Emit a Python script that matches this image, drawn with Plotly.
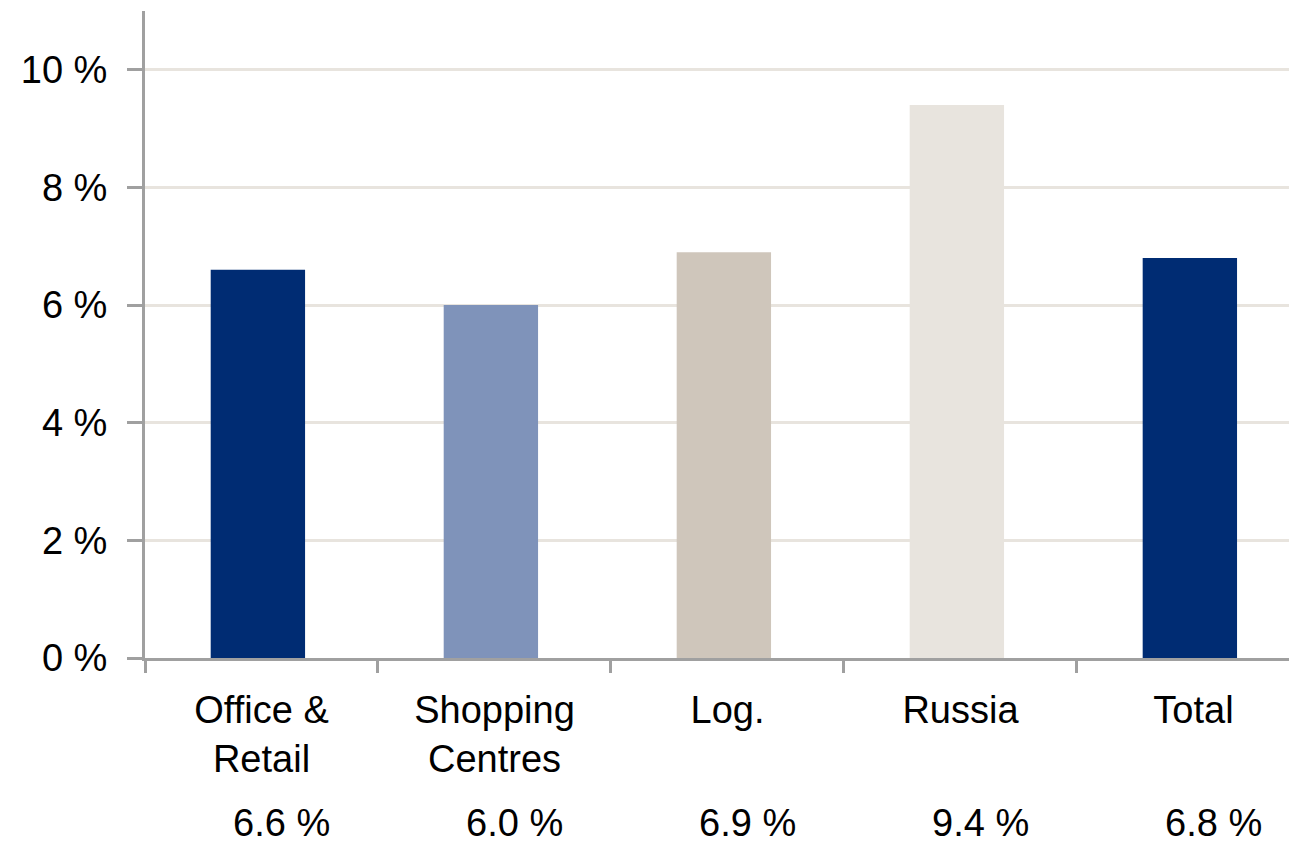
import plotly.graph_objects as go

categories = ["Office &<br>Retail", "Shopping<br>Centres", "Log.", "Russia", "Total"]
values = [6.6, 6.0, 6.9, 9.4, 6.8]
value_labels = ["6.6 %", "6.0 %", "6.9 %", "9.4 %", "6.8 %"]
bar_colors = ["#002C73", "#7F93BA", "#CFC6BB", "#E8E4DE", "#002C73"]
y_ticks = [0, 2, 4, 6, 8, 10]
y_tick_labels = ["0 %", "2 %", "4 %", "6 %", "8 %", "10 %"]

FONT = "Liberation Sans, Arial, sans-serif"
FS = 38

fig = go.Figure()
fig.add_trace(go.Bar(
    x=categories, y=values, marker=dict(color=bar_colors, line=dict(width=0)),
    width=0.405, offset=-0.218, hoverinfo="skip",
))

for cat, lab in zip(categories, value_labels):
    fig.add_annotation(
        x=cat, xref="x", y=-0.2895, yref="paper", text=lab, showarrow=False,
        xshift=20, yanchor="bottom", borderpad=0,
        font=dict(family=FONT, size=FS, color="#000000"),
    )

fig.update_layout(
    width=1289, height=846,
    margin=dict(l=145, r=0, t=11, b=188),
    paper_bgcolor="white", plot_bgcolor="white",
    showlegend=False,
    font=dict(family=FONT, size=FS, color="#000000"),
)
fig.update_xaxes(
    range=[-0.5, 4.41], showgrid=False, showline=True, linecolor="#A0A0A0", linewidth=3,
    ticks="outside", tickson="boundaries", ticklen=12, tickwidth=3, tickcolor="#A0A0A0",
    tickfont=dict(family=FONT, size=FS, color="#000000"), ticklabelstandoff=16,
)
fig.update_yaxes(
    range=[0, 11], tickvals=y_ticks, ticktext=y_tick_labels, showgrid=True, gridcolor="#E8E4DE",
    gridwidth=3, showline=True, linecolor="#A0A0A0", linewidth=3, zeroline=False,
    ticks="outside", ticklen=15, tickwidth=3, tickcolor="#A0A0A0",
    tickfont=dict(family=FONT, size=FS, color="#000000"), ticklabelstandoff=12,
)

fig.write_html("out.html")
